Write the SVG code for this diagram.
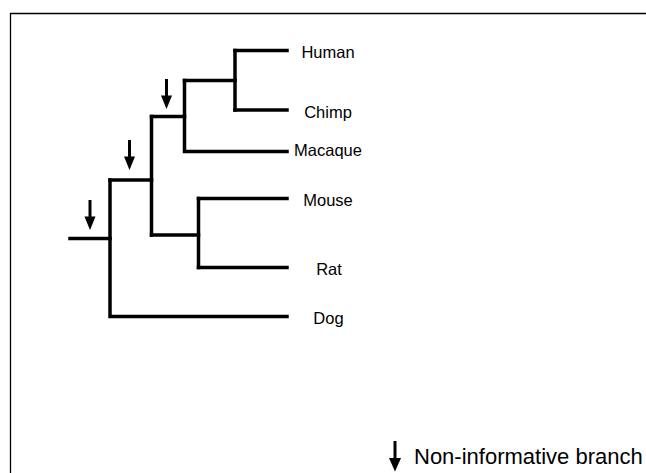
<svg xmlns="http://www.w3.org/2000/svg" width="646" height="473" viewBox="0 0 646 473">
<style>
.br{stroke:#000;stroke-width:3.5;fill:none;stroke-linecap:square}
.ar{stroke:#000;stroke-width:3;fill:none}
.ah{fill:#000}
.lb{font-family:"Liberation Sans",Arial,sans-serif;font-size:16.5px;fill:#000;text-anchor:middle}
.lg{font-family:"Liberation Sans",Arial,sans-serif;font-size:22px;fill:#000}
</style>
<rect width="646" height="473" fill="#fff"/>
<path d="M10.5,473 V13.5 H646" stroke="#000" stroke-width="1.3" fill="none"/>
<g id="connectors">
<path class="br" d="M70,238.5 H110"/>
<path class="br" d="M110,180 V316.5 H287"/>
<path class="br" d="M110,180 H151.5"/>
<path class="br" d="M151.5,116.5 V235"/>
<path class="br" d="M151.5,116.5 H184.5"/>
<path class="br" d="M184.5,80.5 V151.5 H287"/>
<path class="br" d="M184.5,80.5 H235"/>
<path class="br" d="M235,50.5 V110"/>
<path class="br" d="M235,50.5 H287"/>
<path class="br" d="M235,110 H287"/>
<path class="br" d="M151.5,235 H198.5"/>
<path class="br" d="M198.5,198.5 V267.5"/>
<path class="br" d="M198.5,198.5 H287"/>
<path class="br" d="M198.5,267.5 H287"/>
</g>
<g id="arrows">
<path class="ar" d="M90,200 V218"/>
<path class="ah" d="M84.5,216.5 H95.5 L90,230 Z"/>
<path class="ar" d="M129.5,140 V158"/>
<path class="ah" d="M124,156.5 H135 L129.5,170 Z"/>
<path class="ar" d="M166.5,79 V97"/>
<path class="ah" d="M161,95.5 H172 L166.5,109 Z"/>
</g>
<g id="human"><text class="lb" x="328" y="58.3">Human</text></g>
<g id="chimp"><text class="lb" x="328" y="118">Chimp</text></g>
<g id="macaque"><text class="lb" x="328" y="156">Macaque</text></g>
<g id="mouse"><text class="lb" x="328" y="206">Mouse</text></g>
<g id="rat"><text class="lb" x="329" y="275">Rat</text></g>
<g id="dog"><text class="lb" x="328.5" y="324">Dog</text></g>
<g id="legend">
<path class="ar" d="M395,441 V460"/>
<path class="ah" d="M389,458 H401 L395,471.5 Z"/>
<text class="lg" x="414" y="464">Non-informative branch</text>
</g>
</svg>
